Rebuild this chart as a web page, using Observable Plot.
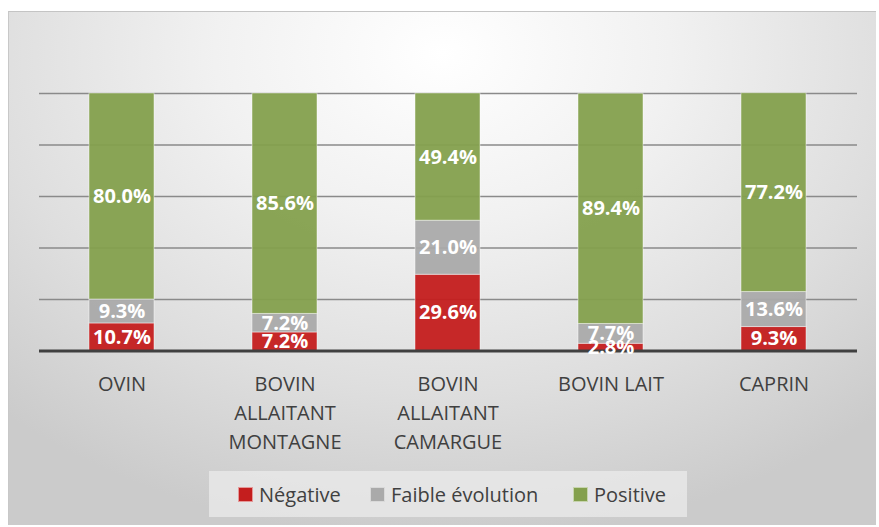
<!DOCTYPE html>
<html>
<head>
<meta charset="utf-8">
<script src="https://cdn.jsdelivr.net/npm/d3@7"></script>
<script src="https://cdn.jsdelivr.net/npm/@observablehq/plot@0.6"></script>
<style>
  html, body { margin: 0; padding: 0; background: #ffffff; }
  #wrap { position: relative; width: 879px; height: 527px; overflow: hidden; font-family: "Open Sans", sans-serif; }
  #frame { position: absolute; left: 8px; top: 11px; width: 868px; height: 514px; box-sizing: border-box;
    border-top: 1px solid #c4c4c4; border-left: 1px solid #c8c8c8;
    background: radial-gradient(ellipse 75% 95% at 50% 8%, #ffffff 0%, #f1f1f1 35%, #dedede 70%, #cbcbcb 100%); }
  #chart { position: absolute; left: 0; top: 0; }
  #legend { position: absolute; left: 209px; top: 471px; width: 478px; height: 46px; background: rgba(235,235,235,0.75); }
  .item { position: absolute; top: 0; height: 46px; display: flex; align-items: center; font-size: 20px; color: #404040; white-space: nowrap; }
  .sw { display: inline-block; width: 13px; height: 13px; margin-right: 6px; border: 1px solid rgba(255,255,255,0.55); }
</style>
</head>
<body>
<div id="wrap">
  <div id="frame"></div>
  <div id="chart"></div>
  <div id="legend"></div>
</div>
<script>
const categories = ["OVIN", "BOVIN\nALLAITANT\nMONTAGNE", "BOVIN\nALLAITANT\nCAMARGUE", "BOVIN LAIT", "CAPRIN"];
const series = ["Négative", "Faible évolution", "Positive"];
const negative = [10.7, 7.2, 29.6, 2.8, 9.3];
const faible = [9.3, 7.2, 21.0, 7.7, 13.6];
const positive = [80.0, 85.6, 49.4, 89.4, 77.2];
const gridTicks = [20, 40, 60, 80, 100];
const colors = ["#c41e1e", "#aaaaaa", "#84a04d"];

const valuesBySeries = [negative, faible, positive];
const data = [];
categories.forEach((c, i) => {
  series.forEach((s, j) => data.push({category: c, series: s, value: valuesBySeries[j][i]}));
});

const chart = Plot.plot({
  width: 879,
  height: 527,
  marginLeft: 39,
  marginRight: 22,
  marginTop: 93,
  marginBottom: 176.5,
  style: {background: "transparent", fontFamily: "Open Sans, sans-serif", overflow: "visible"},
  x: {domain: categories, paddingInner: 0.6, paddingOuter: 0.3, axis: null},
  y: {domain: [0, 100], axis: null},
  color: {domain: series, range: colors},
  marks: [
    Plot.ruleY(gridTicks, {stroke: "#8a8a8a", strokeWidth: 1.6}),
    Plot.barY(data, Plot.stackY({x: "category", y: "value", z: "series", fill: "series",
      fillOpacity: 0.95, stroke: "#ffffff", strokeOpacity: 0.45, strokeWidth: 1})),
    Plot.ruleY([0], {stroke: "#404040", strokeWidth: 2.8}),
    Plot.text(data, Plot.stackY({x: "category", y: "value", z: "series",
      text: d => d.value.toFixed(1) + "%", fill: "#ffffff", fontSize: 20, fontWeight: "bold"})),
    Plot.text(categories, {x: d => d, y: 0, text: d => d, lineAnchor: "top", dy: 20,
      fontSize: 20, lineHeight: 1.43, fill: "#404040"})
  ]
});
document.getElementById("chart").appendChild(chart);

const legend = document.getElementById("legend");
const itemLeft = [29, 161, 364];
series.forEach((s, i) => {
  const el = document.createElement("div");
  el.className = "item";
  el.style.left = itemLeft[i] + "px";
  const sw = document.createElement("span");
  sw.className = "sw";
  sw.style.background = colors[i];
  el.appendChild(sw);
  el.appendChild(document.createTextNode(s));
  legend.appendChild(el);
});
</script>
</body>
</html>
